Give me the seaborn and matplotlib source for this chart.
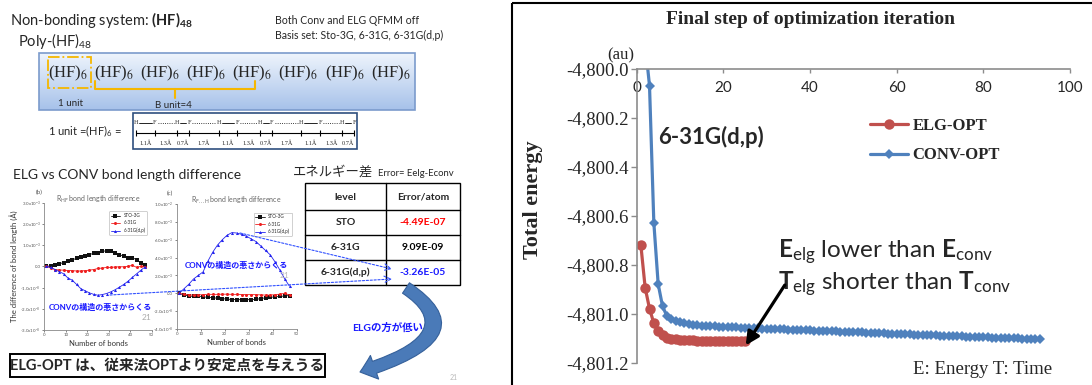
import numpy as np
import pandas as pd
import matplotlib.pyplot as plt
from matplotlib.patches import Rectangle, FancyArrowPatch
from matplotlib.path import Path
from matplotlib.colors import LinearSegmentedColormap
import seaborn as sns

W, H = 1092, 385
SERIF = "Liberation Serif"

# right chart: total energy (au) at each optimization step
elg_step = list(range(1, 26))
elg_energy = [-4800.72, -4800.895, -4800.98, -4801.04, -4801.07, -4801.088, -4801.098,
              -4801.103, -4801.106, -4801.108, -4801.109, -4801.110, -4801.110, -4801.111,
              -4801.111, -4801.111, -4801.112, -4801.112, -4801.112, -4801.112, -4801.112,
              -4801.113, -4801.113, -4801.113, -4801.113]
conv_step = list(range(2, 94))
conv_energy = [-4799.90, -4800.07, -4800.63, -4800.88, -4800.97, -4801.010,
               -4801.022, -4801.030, -4801.036, -4801.040, -4801.043, -4801.046, -4801.048,
               -4801.050, -4801.051, -4801.052, -4801.053, -4801.054, -4801.055,
               -4801.056, -4801.057, -4801.057, -4801.058, -4801.059, -4801.060, -4801.060,
               -4801.061, -4801.062, -4801.062, -4801.063, -4801.064, -4801.064, -4801.065,
               -4801.066, -4801.066, -4801.067, -4801.068, -4801.068, -4801.069, -4801.070,
               -4801.071, -4801.071, -4801.072, -4801.073, -4801.073, -4801.074, -4801.075,
               -4801.075, -4801.076, -4801.077, -4801.077, -4801.078, -4801.079, -4801.079,
               -4801.080, -4801.081, -4801.082, -4801.082, -4801.083, -4801.084, -4801.084,
               -4801.085, -4801.086, -4801.086, -4801.087, -4801.088, -4801.088, -4801.089,
               -4801.090, -4801.090, -4801.091, -4801.092, -4801.093, -4801.093, -4801.094,
               -4801.095, -4801.095, -4801.096, -4801.097, -4801.097, -4801.098, -4801.099,
               -4801.099, -4801.100, -4801.101, -4801.101, -4801.102, -4801.103, -4801.103,
               -4801.104, -4801.104, -4801.105]

# left panels: bond length difference ELG - CONV (x1e-3 A)
bond_no = list(range(1, 48, 2))
basis_names = ["STO-3G", "6-31G", "6-31G(d,p)"]
hf_sto = [0.0, 0.02, 0.08, 0.12, 0.18, 0.25, 0.30, 0.38, 0.45, 0.50, 0.55, 0.62,
          0.65, 0.70, 0.74, 0.72, 0.65, 0.55, 0.48, 0.38, 0.40, 0.32, 0.15, 0.08]
hf_631g = [0.0, -0.08, -0.15, -0.17, -0.18, -0.20, -0.20, -0.22, -0.22, -0.20, -0.18, -0.15,
           -0.10, -0.08, -0.05, -0.05, -0.03, -0.02, -0.02, 0.0, 0.05, -0.05, 0.0, -0.02]
hf_631gdp = [0.0, -0.05, -0.15, -0.25, -0.35, -0.55, -0.65, -0.85, -1.05, -1.15, -1.25, -1.32,
             -1.36, -1.33, -1.28, -1.20, -1.10, -0.98, -0.85, -0.70, -0.52, -0.35, -0.18, -0.02]
fh_sto = [0.0, -0.2, -0.3, -0.35, -0.35, -0.4, -0.45, -0.5, -0.55, -0.6, -0.65, -0.7,
          -0.7, -0.72, -0.72, -0.7, -0.68, -0.6, -0.5, -0.45, -0.4, -0.35, -0.3, -0.25]
fh_631g = [0.0, -0.12, -0.18, -0.2, -0.18, -0.15, -0.12, -0.12, -0.12, -0.1, -0.1, -0.12,
           -0.12, -0.15, -0.15, -0.15, -0.15, -0.18, -0.2, -0.2, -0.15, -0.1, 0.0, -0.2]
fh_631gdp = [0.0, 0.5, 1.0, 1.6, 2.0, 2.4, 3.6, 4.6, 5.4, 6.0, 6.5, 6.8,
             6.75, 6.6, 6.4, 6.1, 5.8, 5.3, 4.8, 4.3, 3.5, 2.6, 1.6, 0.8]

# energy error table
table_level = ["STO", "6-31G", "6-31G(d,p)"]
table_error = ["-4.49E-07", "9.09E-09", "-3.26E-05"]
table_color = ["#ff0000", "#000000", "#1a1aff"]

# (HF)6 unit chain: bond lengths in A
chain_bonds = [1.1, 1.3, 0.7, 1.7, 1.1, 1.3, 0.7, 1.7, 1.1, 1.3, 0.7]
n_units = 8

sns.set_theme(style="white")
plt.rcParams["font.family"] = ["Lato", "Noto Sans CJK JP", "DejaVu Sans"]
plt.rcParams["mathtext.fontset"] = "custom"
plt.rcParams["mathtext.rm"] = "Lato"
plt.rcParams["mathtext.bf"] = "Lato:bold"
plt.rcParams["mathtext.it"] = "Lato:italic"


def px_rect(l, t, r, b):
    return [l / W, 1 - b / H, (r - l) / W, (b - t) / H]


fig = plt.figure(figsize=(W / 100, H / 100), dpi=100)
bg = fig.add_axes([0, 0, 1, 1])
bg.axis("off")

# ---------- left half: slide content ----------
bg.text(10, 20, r"Non-bonding system: $\mathbf{(HF)_{48}}$", fontsize=10.5, va="center")
bg.text(18, 41, r"Poly-(HF)$_{48}$", fontsize=10.5, va="center")
bg.text(275, 20, "Both Conv and ELG QFMM off", fontsize=7.6, va="center")
bg.text(275, 35, "Basis set: Sto-3G, 6-31G, 6-31G(d,p)", fontsize=7.6, va="center")

grad = LinearSegmentedColormap.from_list("box", ["#eef4fc", "#a7c2ea"])
bg.imshow(np.linspace(0, 1, 60).reshape(-1, 1), extent=[39.3, 415, 110, 53.3],
          cmap=grad, aspect="auto", origin="upper")
bg.add_patch(Rectangle((39.3, 53.3), 375.7, 56.7, fill=False, ec="#7b9bcc", lw=1.2))
for i in range(n_units):
    bg.text(68 + i * 46.1, 73, r"(HF)$_6$", family=SERIF, math_fontfamily="stix",
            fontsize=12, ha="center", va="center")
bg.add_patch(Rectangle((47.7, 57.3), 43, 31, fill=False, ec="#f5b700", lw=1.3, ls="-."))
bg.plot([95, 95, 255, 255], [80.7, 89.3, 89.3, 80.7], color="#f5b700", lw=1.5)
bg.plot([175, 175], [89.3, 98.3], color="#f5b700", lw=1.5)
bg.text(70, 103, "1 unit", fontsize=7, ha="center", va="center")
bg.text(173, 105, "B unit=4", fontsize=7, ha="center", va="center")

bg.text(48, 131, r"1 unit =(HF)$_6$ =", fontsize=8, va="center")
bg.add_patch(Rectangle((133, 113), 224, 36, fill="white", fc="white", ec="#2f4f7f", lw=1.2))
atom_x = 136 + 17.2 * np.concatenate([[0], np.cumsum(chain_bonds)])
for i, ax_ in enumerate(atom_x):
    bg.text(ax_, 123, "H" if i % 2 == 0 else "F", family=SERIF, fontsize=4.5,
            ha="center", va="center")
    if i < len(chain_bonds):
        ls = "-" if i % 2 == 0 else ":"
        bg.plot([ax_ + 3, atom_x[i + 1] - 3], [123, 123], color="black", lw=0.6, ls=ls)
        bg.text((ax_ + atom_x[i + 1]) / 2, 143, f"{chain_bonds[i]}Å", family=SERIF,
                fontsize=4.5, ha="center", va="center")
bg.plot([atom_x[0], atom_x[-1]], [133, 133], color="black", lw=0.8)
bg.plot(atom_x, [133] * len(atom_x), "|", color="black", ms=5, mew=0.8)

bg.text(13, 175, "ELG vs CONV bond length difference", fontsize=10, va="center")
bg.text(293, 172, "エネルギー差", family=["Noto Sans CJK JP"], fontsize=9.6, va="center")
bg.text(378, 173, "Error= Eelg-Econv", fontsize=6.8, va="center")

# table
row_y = [183.3, 210, 235, 260, 285]
bg.add_patch(Rectangle((305, 183.3), 155, 101.7, fill=False, ec="black", lw=1))
for y in row_y[1:-1]:
    bg.plot([305, 460], [y, y], color="black", lw=1)
bg.plot([386, 386], [183.3, 285], color="black", lw=1)
bg.text(345.5, 197, "level", fontsize=7.5, weight="bold", ha="center", va="center")
bg.text(423, 197, "Error/atom", fontsize=7.5, weight="bold", ha="center", va="center")
for i in range(len(table_level)):
    yc = (row_y[i + 1] + row_y[i + 2]) / 2
    bg.text(345.5, yc, table_level[i], fontsize=7.5, weight="bold", ha="center", va="center")
    bg.text(423, yc, table_error[i], fontsize=7.5, weight="bold", color=table_color[i],
            ha="center", va="center")


def bond_panel(rect, values, ylim, yticks, ylabels, title, tag):
    pax = fig.add_axes(px_rect(*rect))
    df = pd.DataFrame({"bond": bond_no * 3,
                       "diff": values[0] + values[1] + values[2],
                       "basis": np.repeat(basis_names, len(bond_no))})
    sns.lineplot(data=df, x="bond", y="diff", hue="basis", style="basis",
                 palette=["#111111", "#ee2020", "#2323ee"], markers=["s", "o", "^"],
                 dashes=False, markersize=2.2, markeredgewidth=0, linewidth=0.6, ax=pax)
    pax.set_xlim(0, 50)
    pax.set_ylim(*ylim)
    pax.set_xticks(range(0, 51, 10), labels=[str(v) for v in range(0, 51, 10)], fontsize=3.2)
    pax.set_yticks(yticks, labels=ylabels, fontsize=3.2)
    pax.tick_params(length=1.5, width=0.5, pad=1, colors="#555555", left=True, bottom=True)
    for s in ["top", "right"]:
        pax.spines[s].set_visible(False)
    for s in ["left", "bottom"]:
        pax.spines[s].set_color("#888888")
        pax.spines[s].set_linewidth(0.6)
    pax.set_xlabel("Number of bonds", fontsize=5.5, color="#333333", labelpad=2)
    pax.set_ylabel("")
    pax.set_title(title, fontsize=5, color="#666666", pad=1)
    pax.text(-0.08, 1.07, tag, transform=pax.transAxes, fontsize=4.5, color="#555555")
    sns.move_legend(pax, "upper right", bbox_to_anchor=(0.98, 0.95), title=None,
                    fontsize=3.3, frameon=True, borderpad=0.4, handlelength=2)
    pax.get_legend().get_frame().set_edgecolor("#999999")
    pax.get_legend().get_frame().set_linewidth(0.4)
    return pax


pb = bond_panel((44.3, 202.7, 151.7, 330), [hf_sto, hf_631g, hf_631gdp], (-3, 3),
                [-3, -2, -1, 0, 1, 2, 3],
                [r"-3.0x10$^{-3}$", r"-2.0x10$^{-3}$", r"-1.0x10$^{-3}$", "0.0",
                 r"1.0x10$^{-3}$", r"2.0x10$^{-3}$", r"3.0x10$^{-3}$"],
                r"R$_{\rm HF}$ bond length difference", "(b)")
pb.set_ylabel("The difference of bond length (Å)", fontsize=5.5, color="#333333", labelpad=2)
pc = bond_panel((176.7, 204, 296.7, 329), [fh_sto, fh_631g, fh_631gdp], (-4, 10),
                [-4, -2, 0, 2, 4, 6, 8, 10],
                [r"-4.0x10$^{-3}$", r"-2.0x10$^{-3}$", "0.0", r"2.0x10$^{-3}$",
                 r"4.0x10$^{-3}$", r"6.0x10$^{-3}$", r"8.0x10$^{-3}$", r"1.0x10$^{-2}$"],
                r"R$_{\rm F...H}$ bond length difference", "(c)")

# ---------- right half: optimization chart ----------
bg.add_patch(Rectangle((512, 3), 700, 500, fill=False, ec="black", lw=1.5))

ax = fig.add_axes(px_rect(636.5, 68.5, 1070, 362.5))
ax.patch.set_alpha(0)
sns.lineplot(x=elg_step, y=elg_energy, ax=ax, color="#c0504d", marker="o", markersize=7.5,
             markeredgewidth=0, linewidth=2.3, label="ELG-OPT")
sns.lineplot(x=conv_step, y=conv_energy, ax=ax, color="#4f81bd", marker="D", markersize=5.5,
             markeredgewidth=0, linewidth=2.3, label="CONV-OPT")
ax.set_xlim(0, 100)
ax.set_ylim(-4801.2, -4800.0)
xt = [0, 20, 40, 60, 80, 100]
ax.set_xticks(xt, labels=[str(v) for v in xt], fontfamily=SERIF, fontsize=13)
yt = np.linspace(-4801.2, -4800.0, 7)
ax.set_yticks(yt, labels=[f"{v:,.1f}" for v in yt], fontfamily=SERIF, fontsize=13.5)
for s in ["top", "right"]:
    ax.spines[s].set_visible(False)
ax.spines["bottom"].set_position(("data", -4800.0))
for s in ["left", "bottom"]:
    ax.spines[s].set_color("#8c8c8c")
    ax.spines[s].set_linewidth(1.2)
ax.tick_params(axis="x", direction="out", length=3, width=1, color="#8c8c8c", pad=6, bottom=True)
ax.tick_params(axis="y", direction="out", length=4, width=1, color="#8c8c8c", pad=1.5, left=True)
ax.set_xlabel("")
ax.set_ylabel("Total energy", family=SERIF, fontsize=16, weight="bold", va="center")
ax.yaxis.set_label_coords(-0.239, 0.553)
ax.legend(loc="upper left", bbox_to_anchor=(0.5387, 0.8316), frameon=False, borderpad=0,
          borderaxespad=0, handlelength=2.3, handletextpad=0.25, labelspacing=0.8,
          prop={"family": SERIF, "weight": "bold", "size": 12})

ax.text(5.0, -4800.28, "6-31G(d,p)", fontsize=16, weight="bold", va="center")
ax.text(32.6, -4800.749, r"$\mathbf{E}_{\mathrm{elg}}$ lower than $\mathbf{E}_{\mathrm{conv}}$",
        fontsize=17.5, va="center")
ax.text(32.6, -4800.876, r"$\mathbf{T}_{\mathrm{elg}}$ shorter than $\mathbf{T}_{\mathrm{conv}}$",
        fontsize=17.5, va="center")
ax.annotate("", xy=(25.2, -4801.13), xytext=(34.2, -4800.884),
            arrowprops=dict(arrowstyle="-|>", color="black", lw=2.3, mutation_scale=20,
                            shrinkA=0, shrinkB=0))

bg.text(810, 19, "Final step of optimization iteration", family=SERIF, fontsize=14,
        weight="bold", ha="center", va="center")
bg.text(621, 55, "(au)", family=SERIF, fontsize=12, ha="center", va="center")
bg.text(1052, 370, "E: Energy T: Time", family=SERIF, fontsize=13.5, ha="right", va="center")

# ---------- overlays on the left half ----------
top = fig.add_axes([0, 0, 1, 1])
top.axis("off")
top.patch.set_alpha(0)
top.text(100, 307, "CONVの構造の悪さからくる", color="#1a1aff", fontsize=5.8, weight="bold",
         ha="center", va="center")
top.text(236, 265, "CONVの構造の悪さからくる", color="#1a1aff", fontsize=5.8, weight="bold",
         ha="center", va="center")
top.text(147, 317, "21", color="#aaaaaa", fontsize=6, ha="center", va="center")
top.text(285, 276, "21", color="#bbbbbb", fontsize=6, ha="center", va="center")
dash = dict(arrowstyle="->", color="#3050ff", lw=0.8, linestyle=(0, (2, 1.5)),
            shrinkA=0, shrinkB=0)
top.annotate("", xy=(392, 269), xytext=(240, 233), arrowprops=dash)
top.annotate("", xy=(392, 279), xytext=(110, 295), arrowprops=dash)
curve = Path([(406, 288), (478, 336), (360, 372)], [Path.MOVETO, Path.CURVE3, Path.CURVE3])
top.add_patch(FancyArrowPatch(path=curve,
                              arrowstyle="simple,head_length=11,head_width=18,tail_width=9",
                              mutation_scale=1, fc="#4a7ab8", ec="#35609a", lw=0.8))
top.text(388, 328, "ELGの方が低い", color="#1a1aff", fontsize=7.5, weight="bold",
         ha="center", va="center")
top.text(454, 377, "21", color="#bbbbbb", fontsize=5, ha="center", va="center")
top.add_patch(Rectangle((10, 354), 315, 23, fill=True, fc="white", ec="black", lw=1.4))
top.text(167.5, 365.5, "ELG-OPT は、従来法OPTより安定点を与えうる", fontsize=10.5,
         weight="bold", ha="center", va="center")

for a in (bg, top):
    a.set_xlim(0, W)
    a.set_ylim(H, 0)

fig.savefig("out.png", dpi=100)
